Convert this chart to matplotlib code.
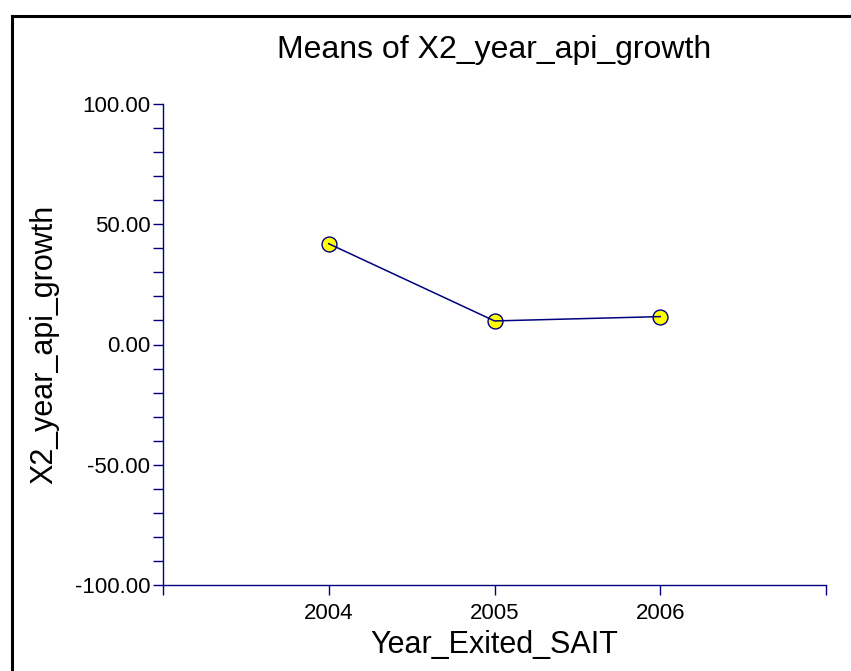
import matplotlib.pyplot as plt
from matplotlib.lines import Line2D

# group means
years = [2004, 2005, 2006]
means = [41.9, 9.8, 11.6]

x_ticks = [2003, 2004, 2005, 2006, 2007]
x_labels = ['', '2004', '2005', '2006', '']
y_major = [-100, -50, 0, 50, 100]

navy = '#000080'

plt.rcParams['font.family'] = ['Liberation Sans', 'DejaVu Sans']

W, H = 851, 671
fig = plt.figure(figsize=(W / 100, H / 100), dpi=100)
ax = fig.add_axes([163 / W, 1 - 585 / H, (826 - 163) / W, (585 - 104) / H])

# outer frame (only left and top edges fall inside the canvas)
fig.add_artist(Line2D([11.5 / W, 11.5 / W], [-0.1, 1 - 15.5 / H],
                      transform=fig.transFigure, color='black', lw=2.2))
fig.add_artist(Line2D([11.5 / W, 1.1], [1 - 15.5 / H, 1 - 15.5 / H],
                      transform=fig.transFigure, color='black', lw=2.2))

ax.plot(years, means, color=navy, lw=1.1, zorder=3)
ax.scatter(years, means, s=115, facecolor='#ffff00', edgecolor=navy,
           linewidth=1.0, zorder=2, clip_on=False)

ax.set_xlim(2003, 2007)
ax.set_ylim(-100, 100)
ax.set_xticks(x_ticks)
ax.set_xticklabels(x_labels)
ax.set_yticks(y_major)
ax.set_yticklabels(['%.2f' % v for v in y_major])
ax.set_yticks(range(-100, 101, 10), minor=True)

for side in ['top', 'right']:
    ax.spines[side].set_visible(False)
for side in ['left', 'bottom']:
    ax.spines[side].set_color(navy)
    ax.spines[side].set_linewidth(1.0)

ax.tick_params(axis='both', which='both', color=navy, width=1.0,
               length=7, direction='out', labelsize=16, labelcolor='black')
ax.tick_params(axis='x', pad=6)
ax.tick_params(axis='y', pad=2)

fig.text((163 + 826) / 2 / W, 1 - 50 / H, 'Means of X2_year_api_growth',
         fontsize=23, ha='center', va='center')
ax.set_xlabel('Year_Exited_SAIT', fontsize=22, va='center')
ax.xaxis.set_label_coords(0.5, (585 - 645) / 481)
ax.set_ylabel('X2_year_api_growth', fontsize=22, va='center')
ax.yaxis.set_label_coords((44 - 163) / 663, 0.5)

fig.savefig('out.png', dpi=100)
